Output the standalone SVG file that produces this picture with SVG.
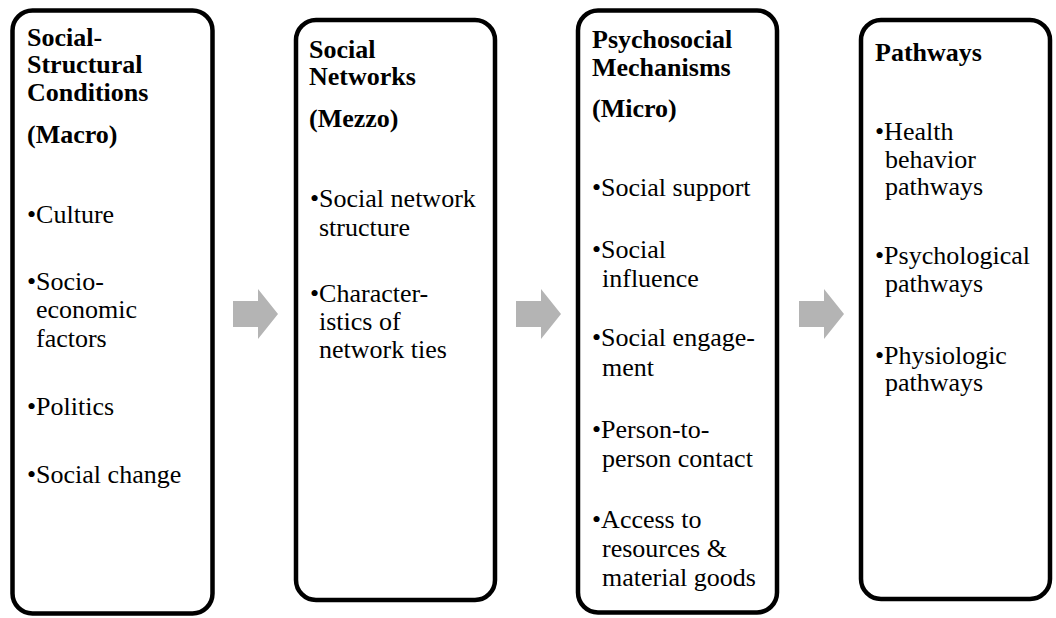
<svg xmlns="http://www.w3.org/2000/svg" width="1056" height="618" viewBox="0 0 1056 618">
<defs>
<style>
.box{fill:#fff;stroke:#000;stroke-width:4.5}
.t{font-family:"Liberation Serif","Times New Roman",serif;font-size:26px;fill:#000}
.h{font-weight:bold}
.arr{fill:#b4b4b4}
</style>
</defs>
<rect width="1056" height="618" fill="#fff"/>
<g id="node-macro">
<rect class="box" x="12.5" y="10.5" width="200" height="603" rx="20" ry="20"/>
<text class="t h" x="27" y="46">Social-</text>
<text class="t h" x="27" y="73">Structural</text>
<text class="t h" x="27" y="101">Conditions</text>
<text class="t h" x="27" y="143">(Macro)</text>
<text class="t" x="27" y="223">•Culture</text>
<text class="t" x="27" y="290">•Socio-</text>
<text class="t" x="36" y="318">economic</text>
<text class="t" x="36" y="347">factors</text>
<text class="t" x="27" y="415">•Politics</text>
<text class="t" x="27" y="483">•Social change</text>
</g>
<g id="node-mezzo">
<rect class="box" x="296" y="20" width="199" height="580" rx="20" ry="20"/>
<text class="t h" x="309" y="58">Social</text>
<text class="t h" x="309" y="85">Networks</text>
<text class="t h" x="309" y="127">(Mezzo)</text>
<text class="t" x="310" y="207">•Social network</text>
<text class="t" x="319" y="236">structure</text>
<text class="t" x="310" y="302">•Character-</text>
<text class="t" x="319" y="330">istics of</text>
<text class="t" x="319" y="358">network ties</text>
</g>
<g id="node-micro">
<rect class="box" x="578" y="10.5" width="199" height="602" rx="20" ry="20"/>
<text class="t h" x="592" y="48">Psychosocial</text>
<text class="t h" x="592" y="76">Mechanisms</text>
<text class="t h" x="592" y="117">(Micro)</text>
<text class="t" x="592" y="196">•Social support</text>
<text class="t" x="592" y="258">•Social</text>
<text class="t" x="602" y="287">influence</text>
<text class="t" x="592" y="346">•Social engage-</text>
<text class="t" x="602" y="376">ment</text>
<text class="t" x="592" y="438">•Person-to-</text>
<text class="t" x="602" y="467">person contact</text>
<text class="t" x="592" y="528">•Access to</text>
<text class="t" x="602" y="557">resources &amp;</text>
<text class="t" x="602" y="586">material goods</text>
</g>
<g id="node-pathways">
<rect class="box" x="861" y="20" width="189" height="579" rx="20" ry="20"/>
<text class="t h" x="875" y="61">Pathways</text>
<text class="t" x="875" y="140">•Health</text>
<text class="t" x="885" y="168">behavior</text>
<text class="t" x="885" y="195">pathways</text>
<text class="t" x="875" y="264">•Psychological</text>
<text class="t" x="885" y="292">pathways</text>
<text class="t" x="875" y="364">•Physiologic</text>
<text class="t" x="885" y="391">pathways</text>
</g>
<g id="connectors">
<path class="arr" d="M233 301 H258 V289 L278 314 L258 339 V327 H233 Z"/>
<path class="arr" d="M516 301 H541 V289 L561 314 L541 339 V327 H516 Z"/>
<path class="arr" d="M799 301 H824 V289 L844 314 L824 339 V327 H799 Z"/>
</g>
</svg>
